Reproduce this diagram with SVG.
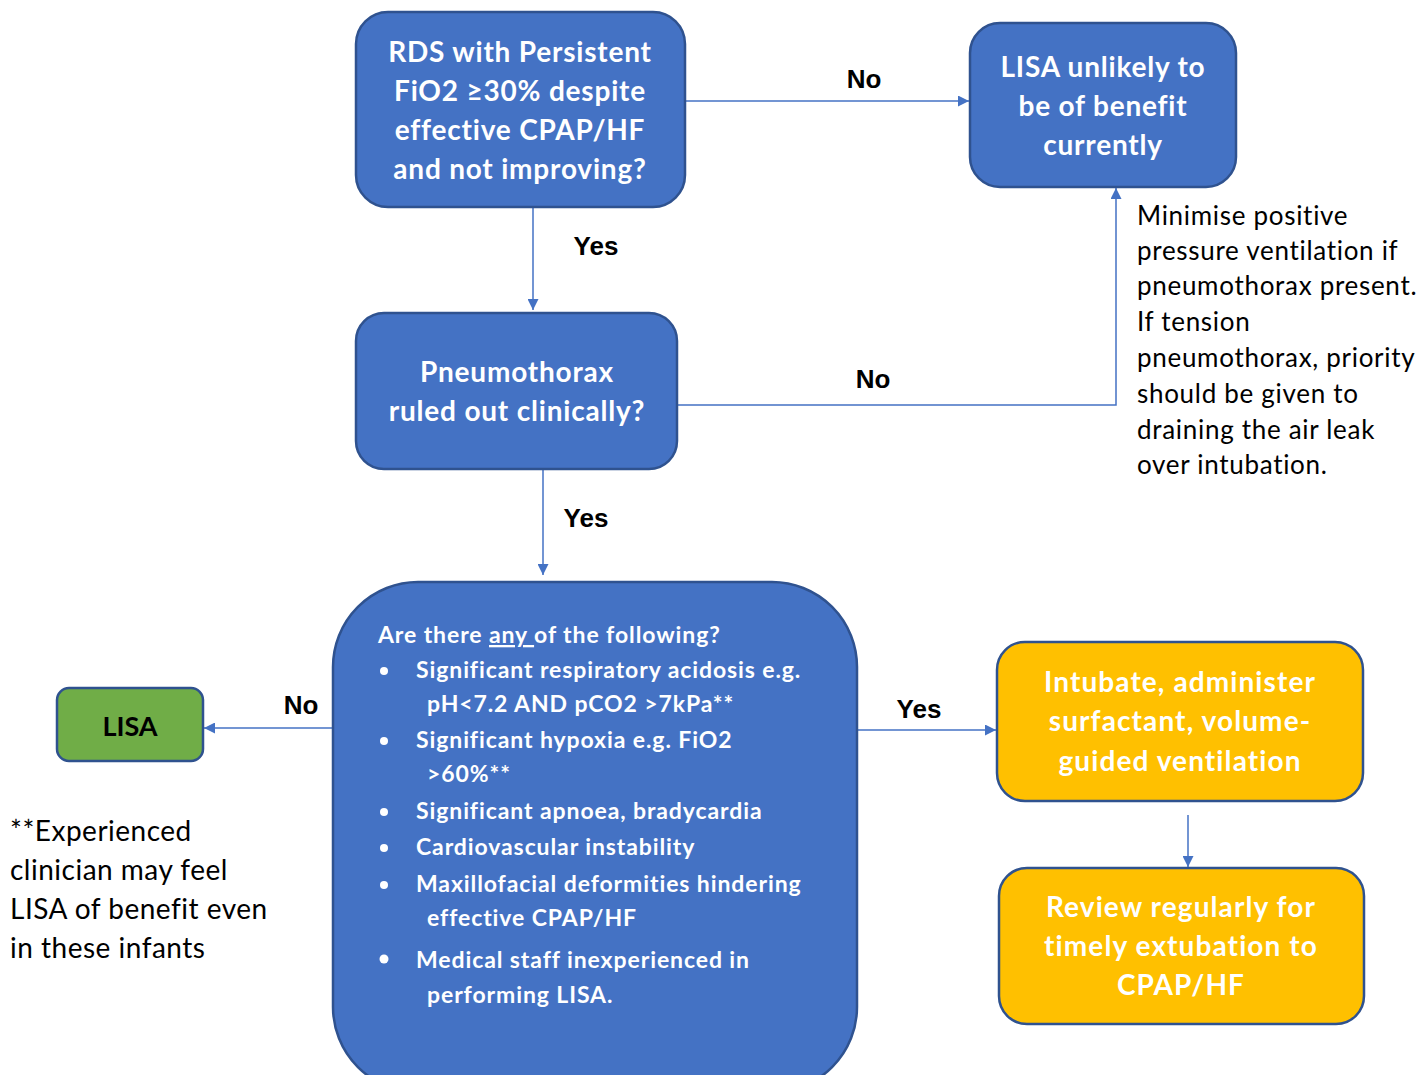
<svg xmlns="http://www.w3.org/2000/svg" width="1421" height="1075" viewBox="0 0 1421 1075">
<defs>
<marker id="arr" viewBox="0 0 10 10" refX="10" refY="5" markerWidth="11" markerHeight="11" markerUnits="userSpaceOnUse" orient="auto">
<path d="M0,0 L10,5 L0,10 z" fill="#4472C4"/>
</marker>
<style>
.blue{fill:#4472C4;stroke:#2F528F;stroke-width:2.5}
.green{fill:#70AD47;stroke:#2F528F;stroke-width:2.5}
.orange{fill:#FFC000;stroke:#2F528F;stroke-width:2.5}
.nt{font-family:Lato,"Liberation Sans",sans-serif;font-weight:bold;font-size:28px;letter-spacing:0.8px;fill:#fff;text-anchor:middle}
.ot{letter-spacing:1.1px}
.lt{font-family:Lato,"Liberation Sans",sans-serif;font-weight:bold;font-size:23px;letter-spacing:0.9px;fill:#fff}
.lbl{font-family:"Liberation Sans",Arial,sans-serif;font-weight:bold;font-size:26px;fill:#000}
.note{font-family:Lato,"Liberation Sans",sans-serif;font-size:26px;letter-spacing:0.7px;fill:#000}
.foot{font-family:Lato,"Liberation Sans",sans-serif;font-size:28px;letter-spacing:0.5px;fill:#000}
.conn{fill:none;stroke:#4472C4;stroke-width:1.5}
</style>
</defs>
<rect width="1421" height="1075" fill="#fff"/>
<g id="connectors">
<path class="conn" d="M685,101 H969" marker-end="url(#arr)"/>
<path class="conn" d="M533,207 V310" marker-end="url(#arr)"/>
<path class="conn" d="M677,405 H1116 V188" marker-end="url(#arr)"/>
<path class="conn" d="M543,469 V575" marker-end="url(#arr)"/>
<path class="conn" d="M333,728 H204" marker-end="url(#arr)"/>
<path class="conn" d="M857,730 H996" marker-end="url(#arr)"/>
<path class="conn" d="M1188,815 V867" marker-end="url(#arr)"/>
<text class="lbl" x="864" y="88" text-anchor="middle">No</text>
<text class="lbl" x="596" y="255" text-anchor="middle">Yes</text>
<text class="lbl" x="873" y="388" text-anchor="middle">No</text>
<text class="lbl" x="586" y="527" text-anchor="middle">Yes</text>
<text class="lbl" x="301" y="714" text-anchor="middle">No</text>
<text class="lbl" x="919" y="718" text-anchor="middle">Yes</text>
</g>
<g id="n-rds">
<rect class="blue" x="356" y="12" width="329" height="195" rx="32"/>
<text class="nt" x="520" y="62">RDS with Persistent</text>
<text class="nt" x="520" y="101">FiO2 ≥30% despite</text>
<text class="nt" x="520" y="140">effective CPAP/HF</text>
<text class="nt" x="520" y="179">and not improving?</text>
</g>
<g id="n-unlikely">
<rect class="blue" x="970" y="23" width="266" height="164" rx="30"/>
<text class="nt" x="1103" y="77">LISA unlikely to</text>
<text class="nt" x="1103" y="116">be of benefit</text>
<text class="nt" x="1103" y="155">currently</text>
</g>
<g id="n-pneumo">
<rect class="blue" x="356" y="313" width="321" height="156" rx="28"/>
<text class="nt" x="517" y="382">Pneumothorax</text>
<text class="nt" x="517" y="421">ruled out clinically?</text>
</g>
<g id="n-any">
<rect class="blue" x="333" y="582" width="524" height="510" rx="85"/>
<text class="lt" x="378" y="643">Are there <tspan text-decoration="underline">any </tspan>of the following?</text>
<g fill="#fff">
<circle cx="384" cy="671" r="4"/>
<circle cx="384" cy="741" r="4"/>
<circle cx="384" cy="812" r="4"/>
<circle cx="384" cy="848" r="4"/>
<circle cx="384" cy="885" r="4"/>
<circle cx="384" cy="959" r="4.5"/>
</g>
<text class="lt" x="416" y="678">Significant respiratory acidosis e.g.</text>
<text class="lt" x="427" y="712">pH&lt;7.2 AND pCO2 &gt;7kPa**</text>
<text class="lt" x="416" y="748">Significant hypoxia e.g. FiO2</text>
<text class="lt" x="427" y="782">&gt;60%**</text>
<text class="lt" x="416" y="819">Significant apnoea, bradycardia</text>
<text class="lt" x="416" y="855">Cardiovascular instability</text>
<text class="lt" x="416" y="892">Maxillofacial deformities hindering</text>
<text class="lt" x="427" y="926">effective CPAP/HF</text>
<text class="lt" x="416" y="968">Medical staff inexperienced in</text>
<text class="lt" x="427" y="1003">performing LISA.</text>
</g>
<g id="n-lisa">
<rect class="green" x="57" y="688" width="146" height="73" rx="12"/>
<text class="nt" x="130" y="736" style="fill:#000;font-size:27px;letter-spacing:0">LISA</text>
</g>
<g id="n-intubate">
<rect class="orange" x="997" y="642" width="366" height="159" rx="28"/>
<text class="nt ot" x="1180" y="692">Intubate, administer</text>
<text class="nt ot" x="1180" y="731">surfactant, volume-</text>
<text class="nt ot" x="1180" y="771">guided ventilation</text>
</g>
<g id="n-review">
<rect class="orange" x="999" y="868" width="365" height="156" rx="28"/>
<text class="nt ot" x="1181" y="917">Review regularly for</text>
<text class="nt ot" x="1181" y="956">timely extubation to</text>
<text class="nt ot" x="1181" y="995">CPAP/HF</text>
</g>
<g id="note-pneumo">
<text class="note" x="1137" y="225">Minimise positive</text>
<text class="note" x="1137" y="260">pressure ventilation if</text>
<text class="note" x="1137" y="295">pneumothorax present.</text>
<text class="note" x="1137" y="331">If tension</text>
<text class="note" x="1137" y="367">pneumothorax, priority</text>
<text class="note" x="1137" y="403">should be given to</text>
<text class="note" x="1137" y="439">draining the air leak</text>
<text class="note" x="1137" y="474">over intubation.</text>
</g>
<g id="note-experienced">
<text class="foot" x="10" y="841">**Experienced</text>
<text class="foot" x="10" y="880">clinician may feel</text>
<text class="foot" x="10" y="919">LISA of benefit even</text>
<text class="foot" x="10" y="958">in these infants</text>
</g>
</svg>
